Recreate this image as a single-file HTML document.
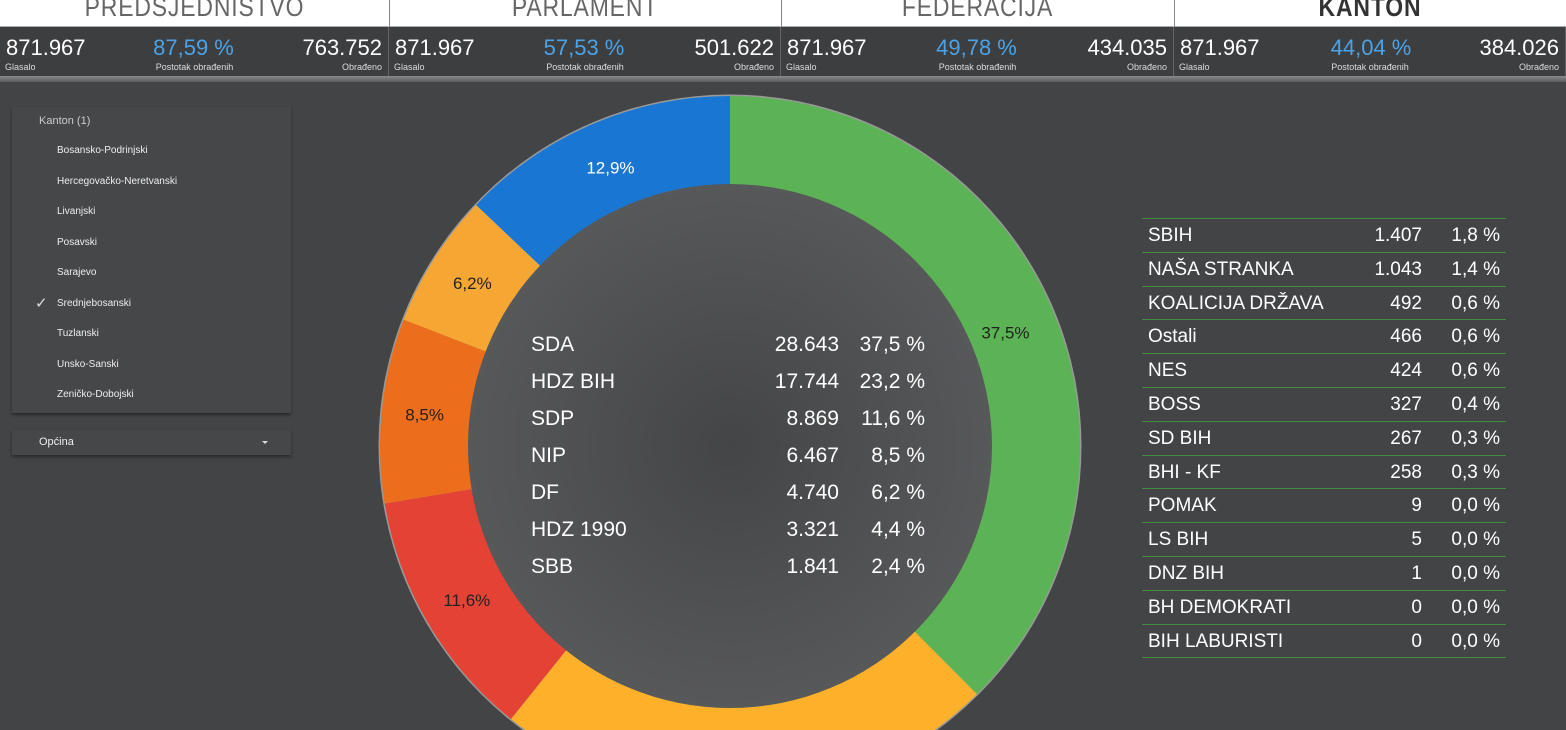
<!DOCTYPE html>
<html style="overflow:hidden;width:1566px;height:730px"><head><meta charset="utf-8"><style>
*{margin:0;padding:0;box-sizing:border-box}
body{width:1566px;height:730px;overflow:hidden;background:#434446;font-family:"Liberation Sans",sans-serif;position:relative}
.top{position:absolute;left:0;top:0;width:1566px;height:27px;background:#fff;border-bottom:1px solid #aaa}
.tt{position:absolute;top:-8px;height:34px;font-size:27px;color:#666;text-align:center;transform:scaleX(0.85);letter-spacing:1px;overflow:hidden}
.bar{position:absolute;left:0;top:27px;width:1566px;height:49px;background:#3d3e40}
.strip{position:absolute;left:0;top:76px;width:1566px;height:6px;background:linear-gradient(#8a8b8d,#5a5b5d)}
.col{position:absolute;top:27px;height:49px;border-right:1px solid #666}
.n{position:absolute;top:8px;font-size:22px;color:#fff}
.s{position:absolute;top:35px;font-size:9px;color:#ddd}
.card{position:absolute;background:#464749;box-shadow:0 2px 3px rgba(0,0,0,.4)}
.it{position:absolute;left:45px;font-size:10px;color:#eee}
.row{position:absolute;left:1142px;width:364px;height:34px;border-top:1px solid #3e8e3e;font-size:19px;color:#fff}
.row span{position:absolute;top:6px}
</style></head><body>
<div class="top"></div>
<div class="tt" style="left:0;width:389px">PREDSJEDNISTVO</div>
<div class="tt" style="left:389px;width:392px">PARLAMENT</div>
<div class="tt" style="left:781px;width:393px">FEDERACIJA</div>
<div class="tt" style="left:1174px;width:392px;font-weight:bold;color:#333">KANTON</div>
<div style="position:absolute;left:389px;top:0;width:1px;height:27px;background:#888"></div>
<div style="position:absolute;left:781px;top:0;width:1px;height:27px;background:#888"></div>
<div style="position:absolute;left:1174px;top:0;width:1px;height:27px;background:#888"></div>
<div class="bar"></div>
<div class="strip"></div>
<div id="stats"></div>
<div class="card" style="left:12px;top:107px;width:279px;height:306px">
<div style="position:absolute;left:27px;top:8px;font-size:11px;color:#ccc">Kanton (1)</div>
</div>
<div id="items"></div>
<div class="card" style="left:12px;top:430px;width:279px;height:25px">
<div style="position:absolute;left:27px;top:6px;font-size:11px;color:#eee">Općina</div>
<div style="position:absolute;left:250px;top:11px;border:3px solid transparent;border-top:3px solid #ddd"></div>
</div>
<svg id="donut" width="1566" height="730" style="position:absolute;left:0;top:0;overflow:hidden">
<defs><radialGradient id="rg"><stop offset="0" stop-color="#444547"/><stop offset="1" stop-color="#575859"/></radialGradient></defs>
</svg>
<div id="tbl"></div>
<script>
const statVals=[["871.967","87,59 %","763.752"],["871.967","57,53 %","501.622"],["871.967","49,78 %","434.035"],["871.967","44,04 %","384.026"]];
const cantons=["Bosansko-Podrinjski","Hercegovačko-Neretvanski","Livanjski","Posavski","Sarajevo","Srednjebosanski","Tuzlanski","Unsko-Sanski","Zeničko-Dobojski"];
const sliceNames=["SDA","HDZ BIH","SDP","NIP","DF","Ostali"];
const slicePct=[37.5,23.2,11.6,8.5,6.2,12.9];
const sliceLabels=["37,5%","","11,6%","8,5%","6,2%","12,9%"];
const sliceColors=["#5bb355","#fdb12a","#e54236","#ec6d1c","#f6a733","#1976d2"];
const topNames=["SDA","HDZ BIH","SDP","NIP","DF","HDZ 1990","SBB"];
const topVotes=["28.643","17.744","8.869","6.467","4.740","3.321","1.841"];
const topPct=["37,5 %","23,2 %","11,6 %","8,5 %","6,2 %","4,4 %","2,4 %"];
const restNames=["SBIH","NAŠA STRANKA","KOALICIJA DRŽAVA","Ostali","NES","BOSS","SD BIH","BHI - KF","POMAK","LS BIH","DNZ BIH","BH DEMOKRATI","BIH LABURISTI"];
const restVotes=["1.407","1.043","492","466","424","327","267","258","9","5","1","0","0"];
const restPct=["1,8 %","1,4 %","0,6 %","0,6 %","0,6 %","0,4 %","0,3 %","0,3 %","0,0 %","0,0 %","0,0 %","0,0 %","0,0 %"];

const st=document.getElementById('stats');
const colX=[0,389,781,1174],colW=[389,392,393,392];
statVals.forEach((v,i)=>{
 const c=document.createElement('div');c.className='col';
 
 
 c.style.left=colX[i]+'px';c.style.width=colW[i]+'px';
 c.innerHTML=`<div class="n" style="left:6px">${v[0]}</div><div class="s" style="left:5px">Glasalo</div>
 <div class="n" style="left:0;width:${colW[i]-2}px;text-align:center;color:#4aa3e8;padding-left:${i==3?4:0}px">${v[1]}</div><div class="s" style="left:0;width:${colW[i]}px;text-align:center">Postotak obrađenih</div>
 <div class="n" style="right:6px">${v[2]}</div><div class="s" style="right:6px">Obrađeno</div>`;
 st.appendChild(c);
});
const it=document.getElementById('items');
cantons.forEach((n,i)=>{
 const d=document.createElement('div');d.className='it';
 
 
 d.style.left='57px';d.style.top=(145+i*30.5)+'px';d.textContent=n;
 if(n==="Srednjebosanski"){const k=document.createElement('span');k.textContent='✓';k.style.cssText='position:absolute;left:-22px;top:-4px;font-size:15px;color:#ddd';d.appendChild(k);}
 it.appendChild(d);
});
const svg=document.getElementById('donut'),NS='http://www.w3.org/2000/svg';
const cx=730,cy=446,R=350,r=262;
function pt(a,rad){return [cx+rad*Math.sin(a),cy-rad*Math.cos(a)];}
const outer=document.createElementNS(NS,'circle');
outer.setAttribute('cx',cx);outer.setAttribute('cy',cy);outer.setAttribute('r',R+1.5);outer.setAttribute('fill','#999');
svg.appendChild(outer);
const labelR=[298,305,305,307,305,303];
const total=slicePct.reduce((a,b)=>a+b,0);let acc=0;
slicePct.forEach((p,i)=>{
 const a0=acc/total*2*Math.PI;acc+=p;const a1=acc/total*2*Math.PI;
 const [x0,y0]=pt(a0,R),[x1,y1]=pt(a1,R);const lg=(a1-a0)>Math.PI?1:0;
 const path=document.createElementNS(NS,'path');
 path.setAttribute('d',`M${cx},${cy}L${x0},${y0}A${R},${R} 0 ${lg} 1 ${x1},${y1}Z`);
 path.setAttribute('fill',sliceColors[i]);
 
 
 svg.appendChild(path);
 if(sliceLabels[i]){const am=(a0+a1)/2;const [lx,ly]=pt(am,labelR[i]);
  const t=document.createElementNS(NS,'text');t.setAttribute('x',lx);t.setAttribute('y',ly+6);
  t.setAttribute('text-anchor','middle');t.setAttribute('font-size','17');t.setAttribute('fill',i==5?'#fff':'#222');
  t.setAttribute('font-family','Liberation Sans, sans-serif');t.textContent=sliceLabels[i];
  
  
  svg.appendChild(t);}
});
const hole=document.createElementNS(NS,'circle');
hole.setAttribute('cx',cx);hole.setAttribute('cy',cy);hole.setAttribute('r',r);hole.setAttribute('fill','url(#rg)');


svg.appendChild(hole);
topNames.forEach((n,i)=>{
 const y=351+i*37;
 [[531,n,'start'],[839,topVotes[i],'end'],[925,topPct[i],'end']].forEach(([x,s,an])=>{
  const t=document.createElementNS(NS,'text');t.setAttribute('x',x);t.setAttribute('y',y);t.setAttribute('text-anchor',an);
  t.setAttribute('font-size','21');t.setAttribute('fill','#fff');t.setAttribute('font-family','Liberation Sans, sans-serif');t.textContent=s;
  
  
  svg.appendChild(t);});
});
const tb=document.getElementById('tbl');
restNames.forEach((n,i)=>{
 const d=document.createElement('div');d.className='row';
 
 
 d.style.top=(218+i*33.8)+'px';
 d.innerHTML=`<span style="left:6px">${n}</span><span style="right:84px">${restVotes[i]}</span><span style="right:6px">${restPct[i]}</span>`;
 tb.appendChild(d);
});
const last=document.createElement('div');last.className='row';last.style.top=(218+13*33.8)+'px';last.style.height='1px';


tb.appendChild(last);
</script>
</body></html>
